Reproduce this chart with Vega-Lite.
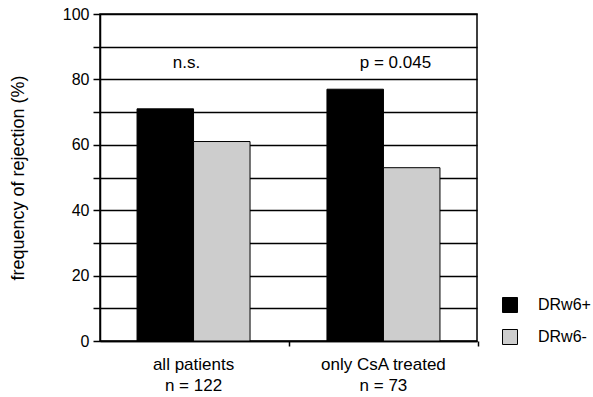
{
  "$schema": "https://vega.github.io/schema/vega-lite/v6.json",
  "autosize": "none",
  "padding": {"left": 100, "top": 14, "right": 116, "bottom": 56},
  "width": 377,
  "height": 327,
  "config": {
    "font": "Liberation Sans",
    "view": {"stroke": "black", "strokeWidth": 1.5},
    "background": "white"
  },
  "data": {
    "values": [
      {"group": "all patients|n = 122", "type": "DRw6+", "freq": 71},
      {"group": "all patients|n = 122", "type": "DRw6-", "freq": 61},
      {"group": "only CsA treated|n = 73", "type": "DRw6+", "freq": 77},
      {"group": "only CsA treated|n = 73", "type": "DRw6-", "freq": 53}
    ]
  },
  "encoding": {
    "x": {
      "field": "group",
      "type": "nominal",
      "sort": null,
      "scale": {"paddingInner": 0.405, "paddingOuter": 0.195},
      "axis": {
        "title": null,
        "labelAngle": 0,
        "labelExpr": "split(datum.label, '|')",
        "labelFontSize": 17,
        "labelColor": "black",
        "labelLineHeight": 21,
        "labelPadding": 10,
        "domainColor": "black",
        "domainWidth": 1.5,
        "tickColor": "black",
        "tickWidth": 1.5,
        "tickSize": 5,
        "bandPosition": 1.345
      }
    },
    "y": {
      "field": "freq",
      "type": "quantitative",
      "scale": {"domain": [0, 100], "nice": false},
      "axis": {
        "title": "frequency of rejection (%)",
        "titleFontSize": 18,
        "titleFontWeight": "normal",
        "titleColor": "black",
        "titlePadding": 35,
        "values": [0, 10, 20, 30, 40, 50, 60, 70, 80, 90, 100],
        "tickCount": 20,
        "labelExpr": "datum.value % 20 === 0 ? datum.label : ''",
        "labelFontSize": 16,
        "labelColor": "black",
        "labelPadding": 4,
        "labelOverlap": false,
        "tickSize": 7,
        "tickColor": "black",
        "tickWidth": 1.5,
        "domainColor": "black",
        "domainWidth": 1.5,
        "grid": true,
        "gridColor": "black",
        "gridWidth": 1.5,
        "gridOpacity": 1
      }
    }
  },
  "layer": [
    {
      "mark": {"type": "bar", "stroke": "black", "strokeWidth": 1},
      "encoding": {
        "xOffset": {"field": "type", "type": "nominal", "sort": ["DRw6+", "DRw6-"]},
        "color": {
          "field": "type",
          "type": "nominal",
          "sort": ["DRw6+", "DRw6-"],
          "scale": {"domain": ["DRw6+", "DRw6-"], "range": ["#000000", "#cdcdcd"]},
          "legend": {
            "title": null,
            "orient": "none",
            "legendX": 402,
            "legendY": 283,
            "padding": 0,
            "symbolType": "square",
            "symbolSize": 225,
            "symbolStrokeColor": "black",
            "symbolStrokeWidth": 1,
            "labelFontSize": 16,
            "labelColor": "black",
            "labelOffset": 20,
            "rowPadding": 12
          }
        }
      }
    },
    {
      "data": {"values": [{"group": "all patients|n = 122", "freq": 85, "label": "n.s."}]},
      "mark": {"type": "text", "fontSize": 17, "color": "black", "dx": -7},
      "encoding": {
        "text": {"field": "label"}
      }
    },
    {
      "data": {"values": [{"group": "only CsA treated|n = 73", "freq": 85, "label": "p = 0.045"}]},
      "mark": {"type": "text", "fontSize": 17, "color": "black", "dx": 12},
      "encoding": {
        "text": {"field": "label"}
      }
    }
  ]
}
